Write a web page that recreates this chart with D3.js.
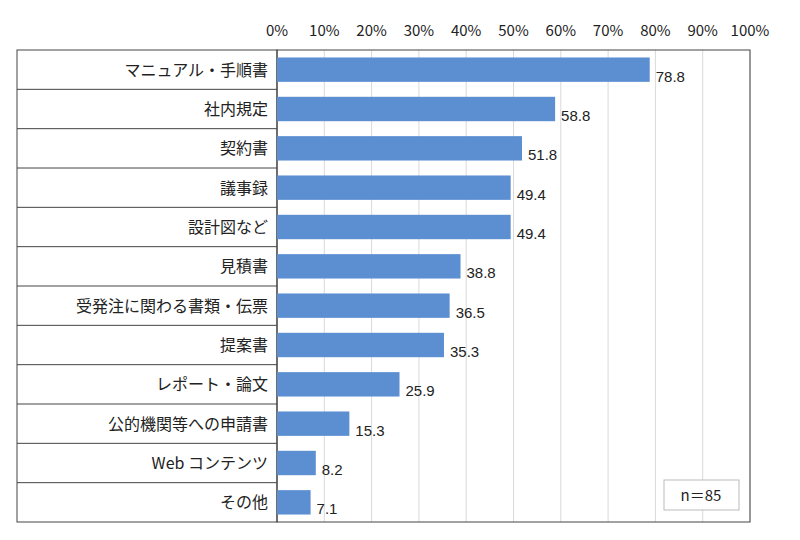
<!DOCTYPE html>
<html><head><meta charset="utf-8">
<script src="https://cdn.jsdelivr.net/npm/d3@7"></script>
<style>body{margin:0;background:#fff;font-family:"Noto Sans CJK JP","Noto Sans",sans-serif;}</style>
</head><body><svg id="c" width="800" height="540"></svg>
<script>
const categories = ["マニュアル・手順書","社内規定","契約書","議事録","設計図など","見積書","受発注に関わる書類・伝票","提案書","レポート・論文","公的機関等への申請書","Web コンテンツ","その他"];
const values = [78.8,58.8,51.8,49.4,49.4,38.8,36.5,35.3,25.9,15.3,8.2,7.1];
const ticks = [0,10,20,30,40,50,60,70,80,90,100];

const svg = d3.select("#c");
const plotLeft = 277, plotRight = 750, plotTop = 50, plotBottom = 522, labelLeft = 17;
const x = d3.scaleLinear().domain([0,100]).range([plotLeft,plotRight]);
const y = d3.scaleBand().domain(categories).range([plotTop,plotBottom]).paddingInner(0.38).paddingOuter(0.19);
const rows = d3.scaleBand().domain(categories).range([plotTop,plotBottom]);

// grid
svg.selectAll(".g").data(ticks).join("line")
  .attr("x1",d=>x(d)).attr("x2",d=>x(d)).attr("y1",plotTop).attr("y2",plotBottom)
  .attr("stroke","#d9d9d9").attr("stroke-width",1);

// tick labels
svg.selectAll(".t").data(ticks).join("text")
  .attr("x",d=>x(d)).attr("y",36).attr("text-anchor","middle")
  .attr("font-size",15).attr("fill","#222").text(d=>d+"%");

// label table
svg.append("rect").attr("x",labelLeft).attr("y",plotTop).attr("width",plotLeft-labelLeft).attr("height",plotBottom-plotTop)
  .attr("fill","none").attr("stroke","#444");
svg.selectAll(".r").data(categories.slice(1)).join("line")
  .attr("x1",labelLeft).attr("x2",plotLeft).attr("y1",d=>rows(d)).attr("y2",d=>rows(d))
  .attr("stroke","#444");
svg.append("rect").attr("x",plotLeft).attr("y",plotTop).attr("width",plotRight-plotLeft).attr("height",plotBottom-plotTop)
  .attr("fill","none").attr("stroke","#444");

svg.selectAll(".c").data(categories).join("text")
  .attr("x",268).attr("y",d=>rows(d)+rows.bandwidth()/2+6).attr("text-anchor","end")
  .attr("font-size",16).attr("fill","#222").text(d=>d);

// bars
svg.selectAll(".b").data(values).join("rect")
  .attr("x",plotLeft).attr("y",(d,i)=>y(categories[i])).attr("width",d=>x(d)-plotLeft).attr("height",y.bandwidth())
  .attr("fill","#5b8fd1");
svg.selectAll(".v").data(values).join("text")
  .attr("x",d=>x(d)+6).attr("y",(d,i)=>y(categories[i])+y.bandwidth()/2+12)
  .attr("font-size",15).attr("fill","#222").attr("font-family","Liberation Sans, Arial, sans-serif")
  .text(d=>d.toFixed(1));

// n box
svg.append("rect").attr("x",664).attr("y",480).attr("width",75).attr("height",30)
  .attr("fill","#fff").attr("stroke","#bbb");
svg.append("text").attr("x",701).attr("y",501).attr("text-anchor","middle")
  .attr("font-size",15).attr("fill","#222").text("n＝85");
</script></body></html>
